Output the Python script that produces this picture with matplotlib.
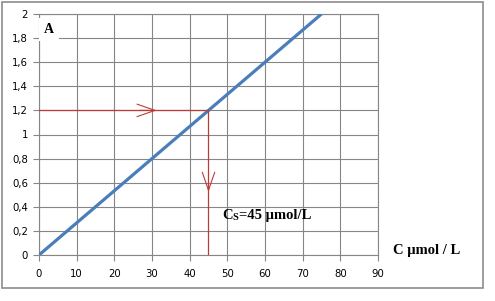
import matplotlib
matplotlib.use("Agg")
import matplotlib.pyplot as plt
from matplotlib.patches import Rectangle

# calibration line data
conc = [0, 75]
absorb = [0, 2]

# reading of the sample
sample_A = 1.2
sample_C = 45

xticks = [0, 10, 20, 30, 40, 50, 60, 70, 80, 90]
yticks = [0, 0.2, 0.4, 0.6, 0.8, 1.0, 1.2, 1.4, 1.6, 1.8, 2.0]
ytick_labels = [f"{v:g}".replace(".", ",") for v in yticks]

grey = "#868686"
blue = "#4a7ebb"
red = "#be3a3a"

fig = plt.figure(figsize=(4.95, 3.01), dpi=100)
fig.patch.set_facecolor("white")
fig.patches.append(Rectangle((2 / 495, 1 - 288 / 301), 481 / 495, 286 / 301,
                             transform=fig.transFigure, fill=False,
                             edgecolor="#8c8c8c", linewidth=1.2))

ax = fig.add_axes([39 / 495, 1 - 255 / 301, 339 / 495, 241 / 301])
ax.set_xlim(0, 90)
ax.set_ylim(0, 2)
ax.set_xticks(xticks)
ax.set_yticks(yticks)
ax.set_yticklabels(ytick_labels)
ax.grid(True, color=grey, linewidth=0.8)
ax.set_axisbelow(True)
for s in ax.spines.values():
    s.set_color(grey)
    s.set_linewidth(0.8)
ax.tick_params(colors=grey, labelcolor="black", labelsize=7.3, length=4, width=0.8, pad=4)
ax.tick_params(axis="x", pad=6)

ax.plot(conc, absorb, color=blue, linewidth=2.3, solid_capstyle="butt", zorder=3)

# red reading lines with open arrowheads
ax.plot([0, sample_C], [sample_A, sample_A], color=red, linewidth=0.9, zorder=4)
ax.plot([sample_C, sample_C], [sample_A, 0], color=red, linewidth=0.9, zorder=4)
ax.annotate("", xy=(32, sample_A), xytext=(26, sample_A),
            arrowprops=dict(arrowstyle="->,head_length=1.3,head_width=0.45",
                            color=red, linewidth=0.8))
ax.annotate("", xy=(sample_C, 0.5), xytext=(sample_C, 0.62),
            arrowprops=dict(arrowstyle="->,head_length=1.3,head_width=0.45",
                            color=red, linewidth=0.8))

serif = "Liberation Serif"
ax.text(1.3, 1.87, "A", family=serif, weight="bold", fontsize=10, va="center",
        bbox=dict(facecolor="white", edgecolor="none", pad=3.5), zorder=5)
tc = ax.text(48.6, 0.33, "C", family=serif, weight="bold", fontsize=10.5, va="center")
ts = ax.annotate("S", xy=(1, 0), xycoords=tc, family=serif, weight="bold",
                 fontsize=7.5, va="bottom", ha="left")
ax.annotate("=45 µmol/L", xy=(1, 0), xycoords=(ts, tc), family=serif, weight="bold",
            fontsize=10.5, va="bottom", ha="left")
ax.text(94, 0.035, "C µmol / L", family=serif, weight="bold", fontsize=10.5,
        va="center", clip_on=False)

plt.savefig("out.png", dpi=100)
